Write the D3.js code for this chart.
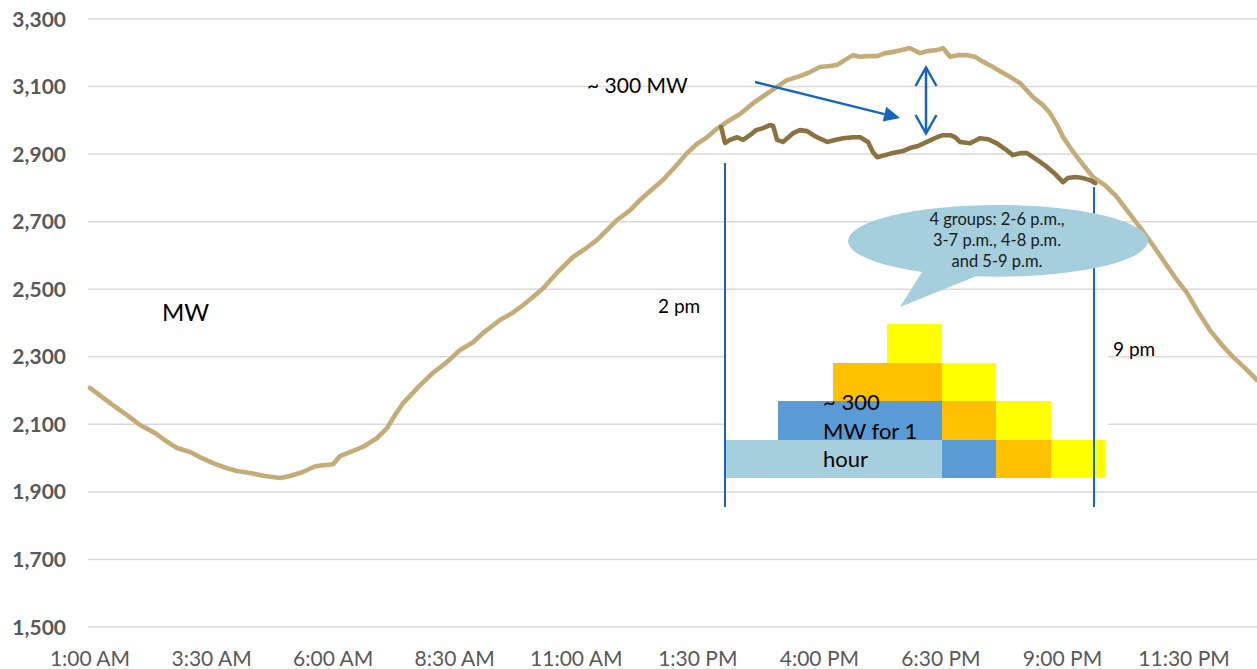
<!DOCTYPE html>
<html>
<head>
<meta charset="utf-8">
<script src="https://cdn.jsdelivr.net/npm/d3@7/dist/d3.min.js"></script>
<style>
  html, body { margin: 0; padding: 0; background: #fff; }
  svg { display: block; font-family: Lato, "Liberation Sans", sans-serif; }
</style>
</head>
<body>
<svg id="chart" width="1257" height="669"></svg>
<script>
// ---------- DATA ----------
// System load (MW), hour of day (1 = 1:00 AM, 25 = 1:00 AM next day)
const baseHours = [1.00,1.21,1.47,1.76,2.03,2.34,2.54,2.79,3.06,3.26,3.53,3.82,4.02,4.29,4.60,4.91,5.11,5.38,5.63,5.79,6.00,6.14,6.35,6.61,6.90,7.11,7.27,7.44,7.62,7.79,8.05,8.34,8.61,8.88,9.08,9.43,9.68,9.91,10.11,10.32,10.60,10.93,11.18,11.43,11.63,11.84,12.11,12.31,12.52,12.78,13.03,13.28,13.48,13.69,13.91,14.16,14.37,14.64,14.88,15.13,15.33,15.60,15.81,16.01,16.22,16.36,16.53,16.69,16.84,16.98,17.19,17.35,17.51,17.70,17.86,18.07,18.23,18.42,18.54,18.69,18.85,19.04,19.20,19.37,19.57,19.78,19.96,20.13,20.39,20.60,20.74,20.89,21.01,21.15,21.30,21.46,21.63,21.87,22.12,22.35,22.59,22.84,23.07,23.31,23.56,23.79,24.03,24.28,24.51,24.75,25.00];
const baseLoad  = [2208,2185,2157,2127,2098,2074,2053,2030,2018,2003,1985,1970,1962,1956,1947,1941,1947,1959,1976,1979,1982,2006,2018,2033,2059,2089,2127,2163,2190,2216,2252,2284,2320,2343,2370,2409,2429,2453,2477,2503,2548,2595,2619,2646,2675,2705,2734,2764,2791,2823,2862,2903,2930,2950,2977,3001,3019,3051,3075,3099,3119,3131,3143,3158,3161,3164,3179,3193,3188,3190,3190,3199,3202,3208,3214,3199,3205,3208,3214,3188,3193,3193,3188,3173,3158,3140,3125,3110,3069,3045,3022,2986,2951,2921,2891,2862,2832,2808,2773,2729,2684,2634,2586,2536,2489,2433,2379,2335,2299,2267,2231];

// Load with the four shifted groups (2 p.m. – ~9:40 p.m.)
const shiftHours = [13.98,14.06,14.16,14.31,14.43,14.57,14.70,14.84,14.98,15.05,15.13,15.25,15.46,15.60,15.75,15.91,16.16,16.32,16.49,16.69,16.84,17.00,17.10,17.19,17.35,17.51,17.72,17.86,18.03,18.21,18.42,18.54,18.69,18.79,18.89,19.10,19.30,19.47,19.65,19.82,19.98,20.13,20.27,20.48,20.68,20.85,21.01,21.11,21.26,21.42,21.57,21.67];
const shiftLoad  = [2980,2933,2942,2950,2942,2956,2971,2977,2986,2983,2942,2936,2962,2971,2968,2953,2936,2942,2947,2950,2950,2936,2906,2891,2897,2903,2909,2918,2924,2936,2950,2956,2956,2950,2936,2932,2947,2944,2932,2915,2897,2903,2903,2883,2862,2841,2817,2829,2832,2829,2823,2814];

const yTicks = [1500,1700,1900,2100,2300,2500,2700,2900,3100,3300];
const xTickHours  = [1,3.5,6,8.5,11,13.5,16,18.5,21,23.5];
const xTickLabels = ["1:00 AM","3:30 AM","6:00 AM","8:30 AM","11:00 AM","1:30 PM","4:00 PM","6:30 PM","9:00 PM","11:30 PM"];

// Four demand-response groups (start hour, end hour)
const groupNames = ["2-6 p.m.","3-7 p.m.","4-8 p.m.","5-9 p.m."];
const groupStart = [14,15,16,17];
const groupEnd   = [18,19,20,21];
const groupColors = ["#A5CFDD","#5B9BD5","#FFC000","#FFFF00"];

// ---------- LAYOUT ----------
const svg = d3.select("#chart");
const x = d3.scaleLinear().domain([1,25]).range([90,1257]);
const y = d3.scaleLinear().domain([1500,3300]).range([627,19]);

// gridlines
svg.append("g").selectAll("line").data(yTicks).join("line")
  .attr("x1", 88).attr("x2", 1257)
  .attr("y1", d => y(d)).attr("y2", d => y(d))
  .attr("stroke", "#D9D9D9").attr("stroke-width", 1.5);

// y axis labels
svg.append("g").selectAll("text").data(yTicks).join("text")
  .attr("x", 66).attr("y", d => y(d)).attr("dy", "0.36em")
  .attr("text-anchor", "end")
  .attr("font-weight", "bold").attr("font-size", 21).attr("fill", "#595959")
  .text(d => d3.format(",")(d));

// x axis labels
svg.append("g").selectAll("text").data(xTickHours).join("text")
  .attr("x", d => x(d)).attr("y", 666)
  .attr("text-anchor", "middle")
  .attr("font-size", 21).attr("fill", "#595959")
  .text((d,i) => xTickLabels[i]);

// lines
const line = d3.line().x(d => x(d[0])).y(d => y(d[1])).curve(d3.curveLinear);
svg.append("path").datum(baseHours.map((h,i)=>[h, baseLoad[i]]))
  .attr("d", line).attr("fill","none").attr("stroke","#C4AC78")
  .attr("stroke-width", 4.6).attr("stroke-linejoin","round").attr("stroke-linecap","round");

// white box behind the block schematic (covers gridlines)
svg.append("rect").attr("x", 724).attr("y", 330).attr("width", 384).attr("height", 140).attr("fill", "#fff");

svg.append("path").datum(shiftHours.map((h,i)=>[h, shiftLoad[i]]))
  .attr("d", line).attr("fill","none").attr("stroke","#8A7340")
  .attr("stroke-width", 4.6).attr("stroke-linejoin","round").attr("stroke-linecap","round");

// ---------- BLOCK SCHEMATIC ----------
const bx = d3.scaleLinear().domain([14,21]).range([724,1105]);
const by = d3.scaleLinear().domain([0,4]).range([478,324]);
const blocks = [];
groupStart.forEach((s,g) => {
  let cur = null;
  for (let h = s; h < groupEnd[g]; h++) {
    let lvl = 0;
    for (let k = 0; k < g; k++) if (groupStart[k] <= h && h < groupEnd[k]) lvl++;
    if (cur && cur.level === lvl) cur.end = h+1;
    else { cur = {g, level: lvl, start: h, end: h+1}; blocks.push(cur); }
  }
});
svg.append("g").attr("shape-rendering","crispEdges").selectAll("rect").data(blocks).join("rect")
  .attr("x", d => bx(d.start)).attr("width", d => bx(d.end) - bx(d.start))
  .attr("y", d => by(d.level+1)).attr("height", d => by(d.level) - by(d.level+1))
  .attr("fill", d => groupColors[d.g]);

const blockText = svg.append("text").attr("font-size", 22).attr("fill", "#000");
["~ 300","MW for 1","hour"].forEach((t,i) => {
  blockText.append("tspan").attr("x", 823).attr("y", 410 + i*28.5).text(t);
});

// ---------- ANNOTATIONS ----------
const blue = "#1565C0";
svg.append("line").attr("x1",725).attr("x2",725).attr("y1",163).attr("y2",507).attr("stroke",blue).attr("stroke-width",2);
svg.append("line").attr("x1",1094).attr("x2",1094).attr("y1",187).attr("y2",507).attr("stroke",blue).attr("stroke-width",2);

svg.append("text").attr("x",658).attr("y",313).attr("font-size",19).attr("fill","#000").text("2 pm");
svg.append("text").attr("x",1113).attr("y",356).attr("font-size",19).attr("fill","#000").text("9 pm");
svg.append("text").attr("x",162).attr("y",321).attr("font-size",24).attr("fill","#000").text("MW");
svg.append("text").attr("x",587).attr("y",93).attr("font-size",21).attr("fill","#000").text("~ 300 MW");

// diagonal arrow
(function(){
  const x1=755,y1=82,x2=900,y2=118;
  const ang=Math.atan2(y2-y1,x2-x1), L=16, W=7.5;
  const bxp=x2-L*Math.cos(ang), byp=y2-L*Math.sin(ang);
  svg.append("line").attr("x1",x1).attr("y1",y1).attr("x2",bxp).attr("y2",byp)
    .attr("stroke",blue).attr("stroke-width",2.5);
  const px=-Math.sin(ang), py=Math.cos(ang);
  svg.append("path").attr("d",`M${x2},${y2}L${bxp+px*W},${byp+py*W}L${bxp-px*W},${byp-py*W}Z`).attr("fill",blue);
})();

// double-headed vertical arrow
svg.append("line").attr("x1",926).attr("x2",926).attr("y1",68).attr("y2",132).attr("stroke",blue).attr("stroke-width",2.5);
svg.append("path").attr("d","M915.5,86L926,67.5L936.5,86").attr("fill","none").attr("stroke",blue).attr("stroke-width",2.5);
svg.append("path").attr("d","M915.5,115L926,133.5L936.5,115").attr("fill","none").attr("stroke",blue).attr("stroke-width",2.5);

// callout
const cx=998, cy=241, rx=150, ry=36;
svg.append("path")
  .attr("d", `M${cx-rx},${cy}A${rx},${ry} 0 1,1 ${cx+rx},${cy}A${rx},${ry} 0 0,1 976,${cy+ry*0.98}L900,307L922,${cy+ry*0.86}A${rx},${ry} 0 0,1 ${cx-rx},${cy}Z`)
  .attr("fill","#A5CFDD");
const ct = svg.append("text").attr("font-size",16.5).attr("fill","#1a1a1a").attr("text-anchor","middle");
["4 groups: " + groupNames[0] + ",", groupNames[1] + ", " + groupNames[2], "and " + groupNames[3]].forEach((t,i) => {
  ct.append("tspan").attr("x", 997).attr("y", 225 + i*21).text(t);
});
</script>
</body>
</html>
